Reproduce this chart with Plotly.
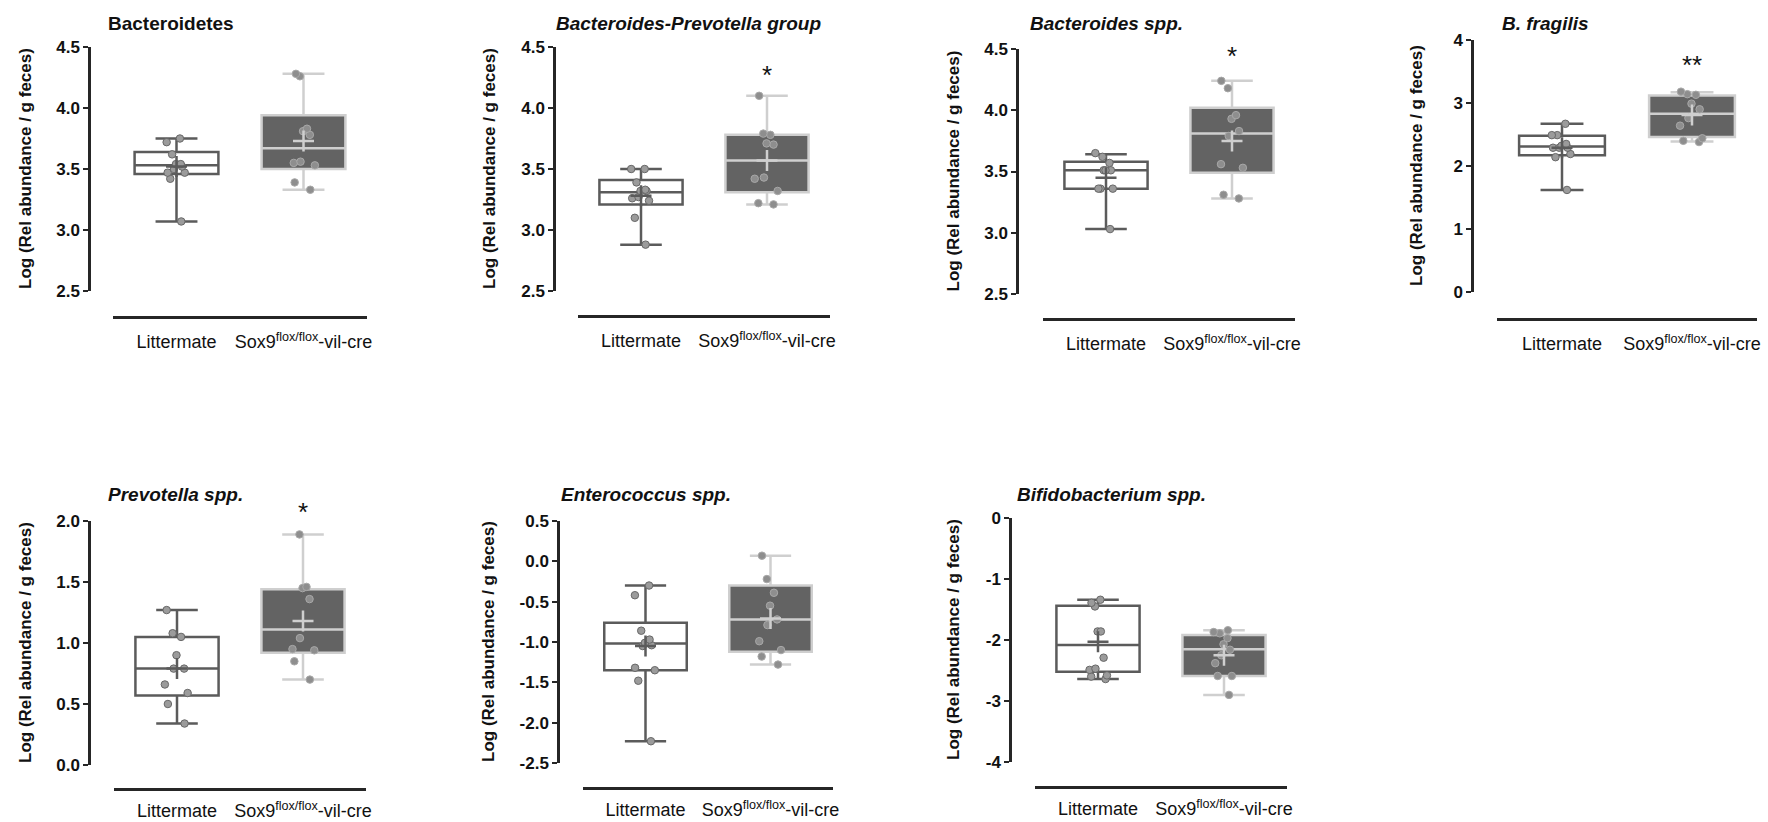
import numpy as np
import plotly.graph_objects as go

W, H = 1768, 822
FONT = "Arial, Liberation Sans, sans-serif"

groups = ["Littermate", "Sox9"]
group_labels = ["Littermate", "Sox9<sup>flox/flox</sup>-vil-cre"]

titles = [
    "<b>Bacteroidetes</b>",
    "<b><i>Bacteroides-Prevotella group</i></b>",
    "<b><i>Bacteroides spp.</i></b>",
    "<b><i>B. fragilis</i></b>",
    "<b><i>Prevotella spp.</i></b>",
    "<b><i>Enterococcus spp.</i></b>",
    "<b><i>Bifidobacterium spp.</i></b>",
]
y_title = "<b>Log (Rel abundance / g feces)</b>"

# individual animals
lit_points = [
    [3.75, 3.72, 3.62, 3.54, 3.54, 3.52, 3.50, 3.47, 3.47, 3.42, 3.07],
    [3.50, 3.50, 3.39, 3.32, 3.32, 3.33, 3.27, 3.26, 3.24, 3.10, 2.88],
    [3.65, 3.62, 3.57, 3.51, 3.51, 3.51, 3.36, 3.36, 3.36, 3.03],
    [2.67, 2.49, 2.49, 2.35, 2.32, 2.29, 2.29, 2.29, 2.19, 2.14, 1.62],
    [1.27, 1.08, 1.05, 0.90, 0.79, 0.79, 0.66, 0.59, 0.50, 0.34],
    [-0.30, -0.42, -0.86, -0.97, -1.01, -1.04, -1.05, -1.32, -1.35, -1.48, -2.23],
    [-1.34, -1.39, -1.45, -1.86, -1.86, -2.29, -2.47, -2.49, -2.58, -2.60, -2.64],
]
sox_points = [
    [4.28, 4.26, 3.83, 3.81, 3.78, 3.56, 3.55, 3.53, 3.39, 3.33],
    [4.10, 3.78, 3.79, 3.71, 3.70, 3.42, 3.43, 3.32, 3.21, 3.22],
    [4.24, 4.18, 3.96, 3.93, 3.83, 3.79, 3.56, 3.53, 3.28, 3.31],
    [3.14, 3.13, 3.18, 2.99, 2.90, 2.76, 2.64, 2.44, 2.38, 2.40],
    [1.89, 1.45, 1.46, 1.36, 1.04, 0.94, 0.95, 0.85, 0.70],
    [0.07, -0.22, -0.39, -0.55, -0.72, -0.79, -0.99, -1.10, -1.18, -1.28],
    [-1.84, -1.87, -1.89, -1.97, -2.07, -2.16, -2.25, -2.38, -2.59, -2.59, -2.90],
]

# box statistics (as drawn)
lit_lo   = [3.07, 2.88, 3.03, 1.62, 0.34, -2.23, -2.64]
lit_q1   = [3.46, 3.21, 3.36, 2.17, 0.57, -1.35, -2.52]
lit_med  = [3.53, 3.31, 3.51, 2.31, 0.79, -1.02, -2.08]
lit_q3   = [3.64, 3.41, 3.58, 2.48, 1.05, -0.76, -1.44]
lit_hi   = [3.75, 3.50, 3.64, 2.67, 1.27, -0.30, -1.34]
lit_mean = [3.52, 3.28, 3.45, 2.29, 0.79, -1.05, -2.03]

sox_lo   = [3.33, 3.21, 3.28, 2.39, 0.70, -1.28, -2.90]
sox_q1   = [3.50, 3.31, 3.49, 2.46, 0.92, -1.12, -2.59]
sox_med  = [3.67, 3.57, 3.81, 2.83, 1.11, -0.72, -2.15]
sox_q3   = [3.94, 3.78, 4.02, 3.12, 1.44, -0.30, -1.92]
sox_hi   = [4.28, 4.10, 4.24, 3.17, 1.89, 0.07, -1.84]
sox_mean = [3.73, 3.57, 3.75, 2.81, 1.18, -0.71, -2.25]

stars  = ["", "*", "*", "**", "*", "", ""]
star_y = [None, 4.27, 4.44, 3.60, 2.07, None, None]

y_ranges = [[2.5, 4.5], [2.5, 4.5], [2.5, 4.5], [0, 4], [0, 2], [-2.5, 0.5], [-4, 0]]
y_dticks = [0.5, 0.5, 0.5, 1, 0.5, 0.5, 1]

# layout geometry in pixels
GEOM = [
    dict(yx=89,   yt=47,  yb=291, xl=113,  xr=367,  xly=317, tx=106,  ty=23,  ytx=25,   so=8),
    dict(yx=554,  yt=47,  yb=291, xl=578,  xr=830,  xly=316, tx=554,  ty=23,  ytx=489,  so=8),
    dict(yx=1017, yt=49,  yb=294, xl=1043, xr=1295, xly=319, tx=1028, ty=23,  ytx=953,  so=8),
    dict(yx=1472, yt=40,  yb=292, xl=1497, xr=1757, xly=319, tx=1500, ty=23,  ytx=1417, so=8),
    dict(yx=89,   yt=521, yb=765, xl=114,  xr=366,  xly=789, tx=106,  ty=494, ytx=25,   so=5),
    dict(yx=558,  yt=521, yb=763, xl=583,  xr=833,  xly=788, tx=559,  ty=494, ytx=488,  so=5),
    dict(yx=1010, yt=518, yb=762, xl=1035, xr=1287, xly=787, tx=1015, ty=494, ytx=953,  so=5),
]

def px(x):
    return x / W

def py(y):
    return 1 - y / H

LIT_LINE = "#5b5b5b"
SOX_FILL = "#636363"
SOX_LINE = "#cfcfcf"
AXIS = "#262626"
BOXW = 0.66

fig = go.Figure()
annotations = []
layout_axes = {}

for i, g in enumerate(GEOM):
    n = i + 1
    xa = "x" if n == 1 else f"x{n}"
    ya = "y" if n == 1 else f"y{n}"
    xkey = "xaxis" if n == 1 else f"xaxis{n}"
    ykey = "yaxis" if n == 1 else f"yaxis{n}"

    # boxes
    fig.add_trace(go.Box(
        x=[groups[0]], q1=[lit_q1[i]], median=[lit_med[i]], q3=[lit_q3[i]],
        lowerfence=[lit_lo[i]], upperfence=[lit_hi[i]],
        boxpoints=False, width=BOXW, whiskerwidth=0.5,
        fillcolor="white", line=dict(color=LIT_LINE, width=2.5),
        xaxis=xa, yaxis=ya, showlegend=False, hoverinfo="skip"))
    fig.add_trace(go.Box(
        x=[groups[1]], q1=[sox_q1[i]], median=[sox_med[i]], q3=[sox_q3[i]],
        lowerfence=[sox_lo[i]], upperfence=[sox_hi[i]],
        boxpoints=False, width=BOXW, whiskerwidth=0.5,
        fillcolor=SOX_FILL, line=dict(color=SOX_LINE, width=2.5),
        xaxis=xa, yaxis=ya, showlegend=False, hoverinfo="skip"))

    # individual points
    for gname, pts, fc, lc in [(groups[0], lit_points[i], "#9b9b9b", "#686868"),
                               (groups[1], sox_points[i], "#8e8e8e", "#a8a8a8")]:
        fig.add_trace(go.Box(
            x=[gname] * len(pts), y=pts, boxpoints="all", jitter=0.35, pointpos=0,
            width=BOXW, fillcolor="rgba(0,0,0,0)",
            line=dict(color="rgba(0,0,0,0)", width=0),
            marker=dict(size=7.5, color=fc, line=dict(color=lc, width=1)),
            xaxis=xa, yaxis=ya, showlegend=False, hoverinfo="skip"))

    # means
    fig.add_trace(go.Scatter(
        x=groups, y=[lit_mean[i], sox_mean[i]], mode="markers",
        marker=dict(symbol="cross-thin", size=15,
                    line=dict(color=[LIT_LINE, SOX_LINE], width=2.5)),
        xaxis=xa, yaxis=ya, showlegend=False, hoverinfo="skip", cliponaxis=False))

    r0, r1 = y_ranges[i]
    tv = np.round(np.arange(r0, r1 + 1e-9, y_dticks[i]), 3)
    fmt = "{:.1f}" if y_dticks[i] < 1 else "{:.0f}"
    tt = [fmt.format(v) for v in tv]

    layout_axes[xkey] = dict(
        domain=[px(g["xl"]), px(g["xr"])], anchor="free", position=py(g["xly"]),
        type="category", categoryorder="array", categoryarray=groups,
        range=[-0.5, 1.5], tickvals=groups, ticktext=group_labels,
        showline=True, linecolor=AXIS, linewidth=2.5, ticks="",
        showgrid=False, zeroline=False, ticklabelstandoff=g["so"], automargin=False,
        tickfont=dict(family=FONT, size=18, color="#111"), fixedrange=True)
    layout_axes[ykey] = dict(
        domain=[py(g["yb"]), py(g["yt"])], anchor="free", position=px(g["yx"]),
        range=[r0, r1], tickvals=tv, ticktext=tt, automargin=False,
        showline=True, linecolor=AXIS, linewidth=2.5,
        ticks="outside", ticklen=5, tickwidth=2, tickcolor=AXIS,
        showgrid=False, zeroline=False,
        tickfont=dict(family=FONT, size=17, color="#111", weight="bold"),
        fixedrange=True)

    annotations.append(dict(
        text=titles[i], x=px(g["tx"]), y=py(g["ty"]), xref="paper", yref="paper",
        xanchor="left", yanchor="middle", showarrow=False,
        font=dict(family=FONT, size=19, color="#111")))
    annotations.append(dict(
        text=y_title, x=px(g["ytx"]), y=py((g["yt"] + g["yb"]) / 2),
        xref="paper", yref="paper", textangle=-90,
        xanchor="center", yanchor="middle", showarrow=False,
        font=dict(family=FONT, size=17, color="#111")))
    if stars[i]:
        annotations.append(dict(
            text=stars[i], x=0.75, y=(star_y[i] - r0) / (r1 - r0),
            xref=f"{xa} domain", yref=f"{ya} domain",
            showarrow=False, xanchor="center", yanchor="middle",
            font=dict(family=FONT, size=26, color="#111")))

fig.update_layout(
    width=W, height=H, margin=dict(l=0, r=0, t=0, b=0, autoexpand=False),
    paper_bgcolor="white", plot_bgcolor="white",
    boxmode="overlay", showlegend=False,
    annotations=annotations, **layout_axes)

fig.write_html(
    "out.html", config={"displayModeBar": False},
    post_script="document.body.style.margin='0px';"
                "document.documentElement.style.overflow='hidden';")
